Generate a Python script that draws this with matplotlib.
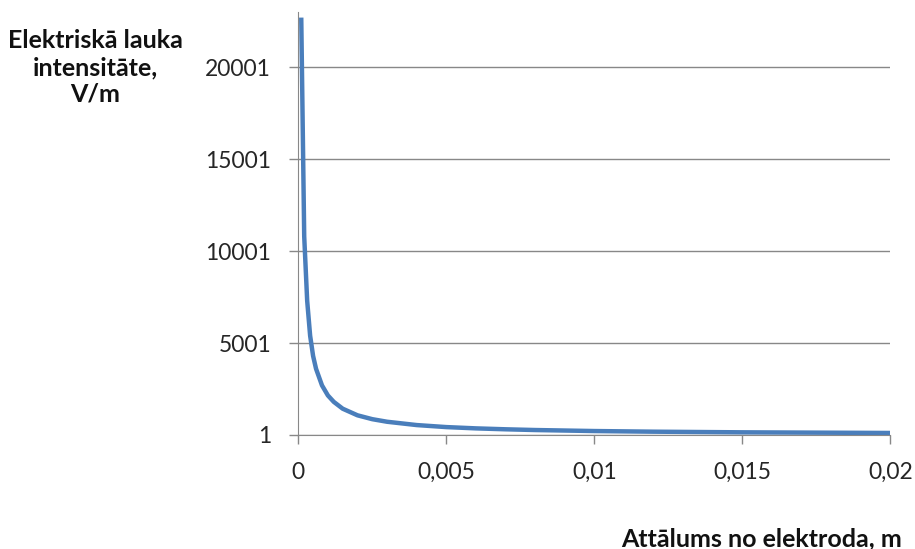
import matplotlib.pyplot as plt
from matplotlib.ticker import FuncFormatter

# Dati nolasīti no attēla
attalums = [0.0001, 0.0002, 0.0003, 0.0004, 0.0005, 0.0006, 0.0008, 0.001,
            0.0012, 0.0015, 0.002, 0.0025, 0.003, 0.004, 0.005, 0.006,
            0.007, 0.008, 0.01, 0.012, 0.015, 0.02]
intensitate = [22700, 10800, 7300, 5400, 4300, 3600, 2700, 2150,
               1800, 1430, 1070, 860, 720, 540, 430, 360,
               310, 270, 215, 180, 145, 110]

x_ticks = [0, 0.005, 0.01, 0.015, 0.02]
x_tick_labels = ["0", "0,005", "0,01", "0,015", "0,02"]
y_ticks = [1, 5001, 10001, 15001, 20001]

plt.rcParams['font.family'] = ['Lato', 'DejaVu Sans']

fig = plt.figure(figsize=(9.15, 5.49), dpi=100)
ax = fig.add_axes([0.326, 0.2077, 0.647, 0.7703])

ax.plot(attalums, intensitate, color='#4a7ebb', lw=3.2, solid_capstyle='butt')

ax.set_xlim(0, 0.02)
ax.set_ylim(1, 23000)
ax.set_xticks(x_ticks)
ax.set_xticklabels(x_tick_labels)
ax.set_yticks(y_ticks)
ax.yaxis.set_major_formatter(FuncFormatter(lambda v, p: f"{int(v)}"))

ax.grid(axis='y', color='#888888', lw=1)
ax.set_axisbelow(True)
for s in ['top', 'right']:
    ax.spines[s].set_visible(False)
for s in ['left', 'bottom']:
    ax.spines[s].set_color('#888888')
ax.tick_params(colors='#888888', labelcolor='#262626', labelsize=16.5,
               length=6.5, width=1)
ax.tick_params(axis='x', pad=13)
ax.tick_params(axis='y', pad=13)

fig.text(0.104, 0.877, "Elektriskā lauka\nintensitāte,\nV/m", ha='center',
         va='center', fontsize=18, fontweight='bold', linespacing=1.2,
         color='#111111')
fig.text(0.986, 0.018, "Attālums no elektroda, m", ha='right', va='center',
         fontsize=18, fontweight='bold', color='#111111')

fig.savefig("out.png", dpi=100)
